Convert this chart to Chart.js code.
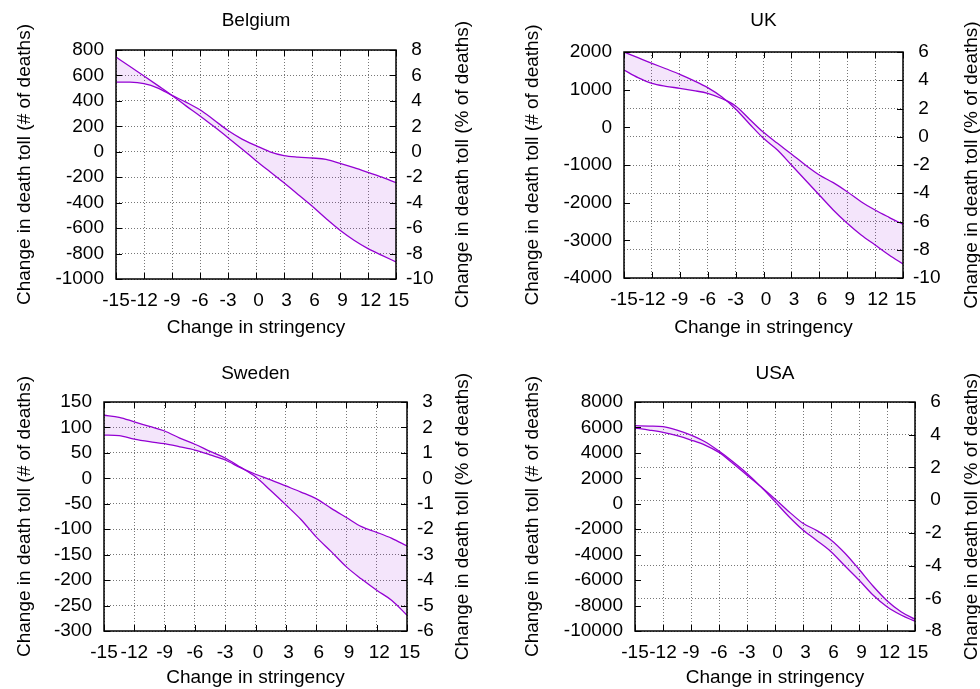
<!DOCTYPE html>
<html>
<head>
<meta charset="utf-8">
<script src="https://cdn.jsdelivr.net/npm/chart.js@4.4.1/dist/chart.umd.min.js"></script>
<style>
  html, body { margin: 0; padding: 0; background: #fff; }
  #wrap { position: relative; width: 980px; height: 689px; overflow: hidden; }
  .panel { position: absolute; }
</style>
</head>
<body>
<div id="wrap">
  <div class="panel" style="left:0;top:0"><canvas id="belgium" width="490" height="345"></canvas></div>
  <div class="panel" style="left:490px;top:0"><canvas id="uk" width="490" height="345"></canvas></div>
  <div class="panel" style="left:0;top:345px"><canvas id="sweden" width="490" height="344"></canvas></div>
  <div class="panel" style="left:490px;top:345px"><canvas id="usa" width="490" height="344"></canvas></div>
</div>
<script>
// x values (change in stringency)
const stringency = [-15, -13.5, -12, -10.5, -9, -7.5, -6, -4.5, -3, -1.5, 0,
  1.5, 3, 4.5, 6, 7.5, 9, 10.5, 12, 13.5, 15];
const xTicks = [-15, 15, 3]; // min, max, step

// Belgium
const belgiumA = [745, 670, 596, 520, 443, 361, 282, 198, 111, 22, -70,
  -157, -243, -335, -427, -525, -617, -695, -761, -814, -866];
const belgiumB = [548, 547, 535, 500, 443, 390, 330, 250, 167, 100, 48,
  0, -30, -42, -49, -59, -91, -125, -162, -200, -243];
const belgiumLeft = [-1000, 800, 200];
const belgiumRight = [-10, 8, 2];

// UK
const ukA = [2000, 1850, 1700, 1555, 1407, 1240, 1053, 810, 487, 90, -292,
  -602, -1000, -1398, -1796, -2194, -2548, -2858, -3124, -3389, -3628];
const ukB = [1522, 1320, 1168, 1090, 1036, 975, 903, 765, 566, 215, -133,
  -425, -708, -1000, -1265, -1469, -1708, -1974, -2194, -2389, -2575];
const ukLeft = [-4000, 2000, 1000];
const ukRight = [-10, 6, 2];

// Sweden
const swedenA = [124, 120, 111, 102, 93, 79, 67, 53, 40, 22, 3,
  -24, -52, -81, -115, -144, -174, -198, -220, -240, -269];
const swedenB = [85, 84, 77, 72, 68, 62, 55.6, 46, 36, 21, 8,
  -3, -15, -27, -40, -59, -77, -95, -106, -118, -133];
const swedenLeft = [-300, 150, 50];
const swedenRight = [-6, 3, 1];

// USA
const usaA = [6136, 6110, 6058, 5795, 5400, 4877, 4142, 3302, 2383, 1330, 165,
  -1014, -2060, -2900, -3765, -4889, -5990, -7169, -8088, -8741, -9236];
const usaB = [5953, 5795, 5612, 5350, 5008, 4614, 4037, 3171, 2252, 1340, 377,
  -620, -1533, -2114, -2845, -3891, -5149, -6461, -7617, -8481, -9079];
const usaLeft = [-10000, 8000, 2000];
const usaRight = [-8, 6, 2];

const FONT = '"Liberation Sans", Arial, Helvetica, sans-serif';
Chart.defaults.font.family = FONT;
Chart.defaults.font.size = 19;
Chart.defaults.color = "#000";

const LINE = "#9400d3";
const FILL = "rgba(148, 0, 211, 0.1)";
const GRID = "#777";

// gnuplot "% h" style: leading space for non-negative numbers
function gp(v) {
  return v >= 0 ? " " + v : String(v);
}

// titles, axis titles, box and inward tick marks
const decorPlugin = {
  id: "decor",
  afterDraw(chart, args, opts) {
    const ctx = chart.ctx;
    const a = chart.chartArea;
    const cx = (a.left + a.right) / 2;
    const cy = (a.top + a.bottom) / 2;
    ctx.save();

    // inward tick marks
    ctx.strokeStyle = "#000";
    ctx.lineWidth = 1;
    const tl = 6;
    ctx.beginPath();
    chart.scales.x.ticks.forEach((t) => {
      const px = Math.round(chart.scales.x.getPixelForValue(t.value)) + 0.5;
      ctx.moveTo(px, a.bottom); ctx.lineTo(px, a.bottom - tl);
      ctx.moveTo(px, a.top); ctx.lineTo(px, a.top + tl);
    });
    chart.scales.y.ticks.forEach((t) => {
      const py = Math.round(chart.scales.y.getPixelForValue(t.value)) + 0.5;
      ctx.moveTo(a.left, py); ctx.lineTo(a.left + tl, py);
    });
    chart.scales.y2.ticks.forEach((t) => {
      const py = Math.round(chart.scales.y2.getPixelForValue(t.value)) + 0.5;
      ctx.moveTo(a.right, py); ctx.lineTo(a.right - tl, py);
    });
    ctx.stroke();

    // plot box
    ctx.lineWidth = 1.5;
    ctx.strokeRect(a.left, a.top, a.right - a.left, a.bottom - a.top);

    // texts
    ctx.fillStyle = "#000";
    ctx.font = "19px " + FONT;
    ctx.textAlign = "center";
    ctx.textBaseline = "middle";
    ctx.fillText(opts.title, cx, opts.titleY);
    ctx.fillText("Change in stringency", cx, opts.xTitleY);

    ctx.save();
    ctx.translate(opts.leftTitleX, cy);
    ctx.rotate(-Math.PI / 2);
    ctx.fillText("Change in death toll (# of deaths)", 0, 0);
    ctx.restore();

    ctx.save();
    ctx.translate(opts.rightTitleX, cy);
    ctx.rotate(-Math.PI / 2);
    ctx.fillText("Change in death toll (% of deaths)", 0, 0);
    ctx.restore();

    ctx.restore();
  },
};

function makePanel(id, title, seriesA, seriesB, left, right, geo) {
  const ctx = document.getElementById(id).getContext("2d");
  return new Chart(ctx, {
    type: "line",
    data: {
      datasets: [
        {
          data: stringency.map((x, i) => ({ x: x, y: seriesA[i] })),
          borderColor: LINE,
          backgroundColor: FILL,
          borderWidth: 1.3,
          pointRadius: 0,
          cubicInterpolationMode: "monotone",
          fill: "+1",
          yAxisID: "y",
        },
        {
          data: stringency.map((x, i) => ({ x: x, y: seriesB[i] })),
          borderColor: LINE,
          backgroundColor: FILL,
          borderWidth: 1.3,
          pointRadius: 0,
          cubicInterpolationMode: "monotone",
          fill: false,
          yAxisID: "y",
        },
      ],
    },
    options: {
      responsive: false,
      animation: false,
      layout: { padding: { top: geo.top, left: 0, right: 0, bottom: 0 } },
      plugins: {
        legend: { display: false },
        tooltip: { enabled: false },
        decor: {
          title: title,
          titleY: geo.titleY,
          xTitleY: geo.xTitleY,
          leftTitleX: geo.leftTitleX,
          rightTitleX: geo.rightTitleX,
        },
      },
      scales: {
        x: {
          type: "linear",
          min: xTicks[0],
          max: xTicks[1],
          ticks: {
            stepSize: xTicks[2],
            autoSkip: false,
            maxRotation: 0,
            padding: 10,
            callback: (v) => gp(v),
          },
          grid: { color: GRID, drawTicks: false },
          border: { display: false, dash: [1, 2] },
          afterFit: (s) => { s.height = geo.bottom; },
        },
        y: {
          position: "left",
          min: left[0],
          max: left[1],
          ticks: { stepSize: left[2], padding: 12, autoSkip: false, callback: (v) => String(v) },
          grid: { display: false, drawTicks: false },
          border: { display: false },
          afterFit: (s) => { s.width = geo.left; },
        },
        y2: {
          position: "right",
          min: right[0],
          max: right[1],
          ticks: { stepSize: right[2], padding: 10, autoSkip: false, callback: (v) => gp(v) },
          grid: { color: GRID, drawTicks: false },
          border: { display: false, dash: [1, 2] },
          afterFit: (s) => { s.width = geo.right; },
        },
      },
    },
    plugins: [decorPlugin],
  });
}

makePanel("belgium", "Belgium", belgiumA, belgiumB, belgiumLeft, belgiumRight,
  { top: 50, left: 116, right: 94, bottom: 66, titleY: 21, xTitleY: 328, leftTitleX: 25, rightTitleX: 463 });
makePanel("uk", "UK", ukA, ukB, ukLeft, ukRight,
  { top: 52, left: 134, right: 77, bottom: 67, titleY: 21, xTitleY: 328, leftTitleX: 43, rightTitleX: 482 });
makePanel("sweden", "Sweden", swedenA, swedenB, swedenLeft, swedenRight,
  { top: 57, left: 104, right: 83, bottom: 58, titleY: 29, xTitleY: 333, leftTitleX: 25, rightTitleX: 463 });
makePanel("usa", "USA", usaA, usaB, usaLeft, usaRight,
  { top: 57, left: 145, right: 65, bottom: 58, titleY: 29, xTitleY: 333, leftTitleX: 43, rightTitleX: 482 });
</script>
</body>
</html>
